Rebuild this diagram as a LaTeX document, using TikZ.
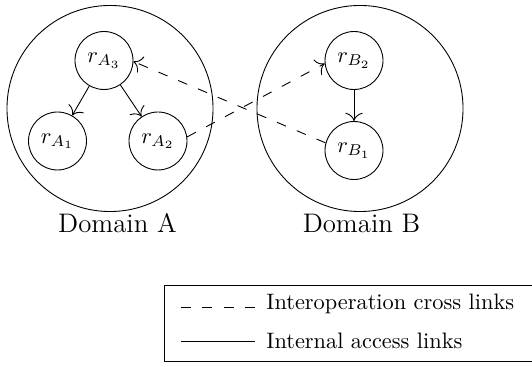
\documentclass[tikz,border=0pt]{standalone}
\usetikzlibrary{arrows.meta}
\begin{document}
\begin{tikzpicture}[x=0.4474pt,y=-0.4474pt,>={To[scale=1.5]},
  resnode/.style={circle,draw,minimum size=25.95pt,inner sep=0pt,font=\normalsize},
  domcircle/.style={circle,draw,minimum size=92.2pt,inner sep=0pt},
  dlabel/.style={anchor=base,font=\large,inner sep=0pt},
  crosslink/.style={dash pattern=on 4.4pt off 5.2pt},
  internallink/.style={},
  legtext/.style={anchor=base west,inner sep=0pt}]
\useasboundingbox (0,0) rectangle (532,367);
% domains
\node[domcircle] (DA) at (110,108.5) {};
\node[domcircle] (DB) at (360,108.5) {};
\node[dlabel] (LA) at (117.5,233) {Domain A};
\node[dlabel] (LB) at (361.5,233) {Domain B};
% resources
\node[resnode] (rA3) at (104,60.5) {$r_{A_3}$};
\node[resnode] (rA1) at (57.5,141) {$r_{A_1}$};
\node[resnode] (rA2) at (158,141) {$r_{A_2}$};
\node[resnode] (rB2) at (354,60.5) {$r_{B_2}$};
\node[resnode] (rB1) at (354,150.5) {$r_{B_1}$};
% internal links
\draw[->,internallink] (rA3) -- (rA1);
\draw[->,internallink] (rA3) -- (rA2);
\draw[->,internallink] (rB2) -- (rB1);
% cross links
\draw[->,crosslink] (rA2.8) -- (rB2.186);
\draw[->,crosslink] (rB1.165) -- (rA3.-2);
% legend
\coordinate (legNW) at (164,285);
\coordinate (legSE) at (540,361);
\draw (legNW) rectangle (legSE);
\coordinate (d1) at (181,307.5);
\coordinate (d2) at (255,307.5);
\coordinate (s1) at (181,341.5);
\coordinate (s2) at (255,341.5);
\draw[crosslink] (d1) -- (d2);
\draw[internallink] (s1) -- (s2);
\node[legtext] (t1) at (266,310) {Interoperation cross links};
\node[legtext] (t2) at (266,349) {Internal access links};
\end{tikzpicture}
\end{document}
